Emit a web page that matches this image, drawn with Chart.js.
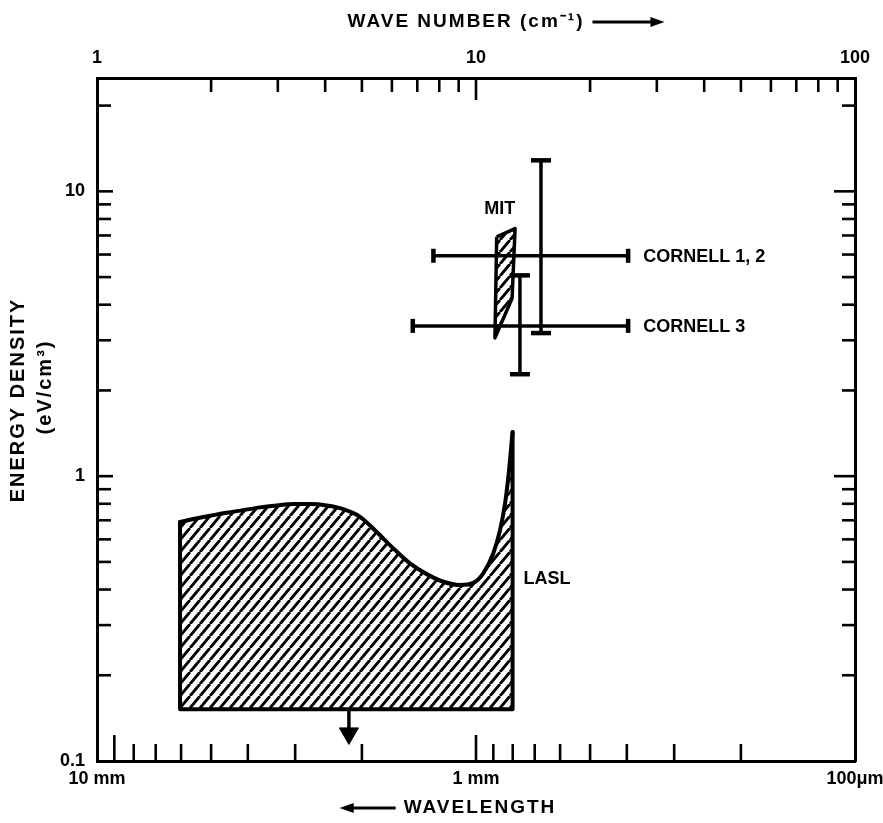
<!DOCTYPE html>
<html>
<head>
<meta charset="utf-8">
<title>Energy density vs wave number</title>
<script src="https://cdn.jsdelivr.net/npm/chart.js@4.4.1/dist/chart.umd.min.js"></script>
<style>
html,body{margin:0;padding:0;background:#ffffff;}
#box{position:relative;width:883px;height:823px;}
canvas{display:block;}
</style>
</head>
<body>
<div id="box"><canvas id="chart" width="883" height="823"></canvas></div>
<script>
// ---------------- data ----------------
// top axis: wave number (cm^-1)
const waveNumberDecades = [1, 10, 100];
const waveNumberLabels = ['1', '10', '100'];
const waveNumberMinor = [2, 3, 4, 5, 6, 7, 8, 9, 20, 30, 40, 50, 60, 70, 80, 90];
// bottom axis: wavelength (labels at the same decades)
const wavelengthLabels = ['10 mm', '1 mm', '100\u03bcm'];
const wavelengthTicksMm = [9, 8, 7, 6, 5, 4, 3, 2, 1, 0.9, 0.8, 0.7, 0.6, 0.5, 0.4, 0.3, 0.2];
const wavelengthLongTicksMm = [9, 1];
// left axis: energy density (eV/cm^3)
const energyDecades = [0.1, 1, 10];
const energyLabels = ['0.1', '1', '10'];
const energyMinor = [0.2, 0.3, 0.4, 0.5, 0.6, 0.7, 0.8, 0.9, 2, 3, 4, 5, 6, 7, 8, 9, 20];

// LASL region (upper envelope, wave number in cm^-1 / energy density)
const laslWaveNumber = [1.656, 1.795, 1.987, 2.199, 2.432, 2.692, 2.980, 3.296, 3.648, 4.037, 4.465, 4.942, 5.470, 6.050, 6.697, 7.412, 8.199, 9.074, 9.837, 10.45, 11.11, 11.57, 11.93, 12.17, 12.49];
const laslEnergy = [0.691, 0.707, 0.726, 0.744, 0.760, 0.777, 0.789, 0.798, 0.798, 0.789, 0.766, 0.720, 0.637, 0.558, 0.494, 0.453, 0.426, 0.415, 0.422, 0.456, 0.536, 0.646, 0.802, 0.994, 1.43];
const laslFloor = 0.152;
const laslLimitWaveNumber = [4.62, 4.62];
const laslLimitEnergy = [0.152, 0.125];

// MIT region (polygon corners)
const mitWaveNumber = [11.34, 12.68, 12.45, 11.22];
const mitEnergy = [6.92, 7.40, 4.21, 3.06];

// Cornell measurements (crosses)
const cornellNames = ['CORNELL 1, 2', 'CORNELL 3'];
const cornellWaveNumber = [14.84, 13.06];
const cornellEnergy = [5.94, 3.37];
const cornellWaveNumberLow = [7.72, 6.81];
const cornellWaveNumberHigh = [25.2, 25.2];
const cornellEnergyLow = [3.18, 2.28];
const cornellEnergyHigh = [12.85, 5.07];

// axis titles
const TOP_TITLE = 'WAVE NUMBER (cm\u207B\u00B9)';
const BOTTOM_TITLE = 'WAVELENGTH';
const Y_TITLE = ['ENERGY DENSITY', '(eV/cm\u00B3)'];

// ---------------- style ----------------
const FONT = '"Liberation Sans", Arial, Helvetica, sans-serif';
const FS = 18;
const TITLE_FS = 19;
const INK = '#000000';
Chart.defaults.font.family = FONT;
Chart.defaults.font.weight = 'bold';
Chart.defaults.font.size = FS;
Chart.defaults.color = INK;

const canvas = document.getElementById('chart');
const mainCtx = canvas.getContext('2d');
function makeHatch(w, h, lw) {
  const c = document.createElement('canvas');
  c.width = w; c.height = h;
  const g = c.getContext('2d');
  g.strokeStyle = INK; g.lineWidth = lw;
  g.beginPath();
  for (const k of [-1, 0, 1]) { g.moveTo(k * w, h); g.lineTo(k * w + w, 0); }
  g.stroke();
  return mainCtx.createPattern(c, 'repeat');
}
const hatch = makeHatch(10, 12, 2.9);

const pts = (xs, ys) => xs.map((x, i) => ({x, y: ys[i]}));
const wnFromMm = mm => 10 / mm;

// ---------------- datasets ----------------
const datasets = [];
datasets.push({
  label: 'LASL',
  data: pts(laslWaveNumber, laslEnergy),
  borderColor: INK, borderWidth: 4, borderJoinStyle: 'round', borderCapStyle: 'round',
  backgroundColor: hatch, fill: {value: laslFloor},
  cubicInterpolationMode: 'monotone', pointRadius: 0
});
datasets.push({
  label: 'LASL edges',
  data: [
    {x: laslWaveNumber[0], y: laslEnergy[0]},
    {x: laslWaveNumber[0], y: laslFloor},
    {x: laslWaveNumber[laslWaveNumber.length - 1], y: laslFloor},
    {x: laslWaveNumber[laslWaveNumber.length - 1], y: laslEnergy[laslEnergy.length - 1]}
  ],
  borderColor: INK, borderWidth: 4, borderJoinStyle: 'round', borderCapStyle: 'round',
  fill: false, tension: 0, pointRadius: 0
});
datasets.push({
  label: 'LASL limit',
  data: pts(laslLimitWaveNumber, laslLimitEnergy),
  borderColor: INK, borderWidth: 3.5, fill: false, tension: 0,
  pointRadius: [0, 11], pointStyle: 'triangle', pointRotation: 180,
  pointBackgroundColor: INK, pointBorderColor: INK, pointBorderWidth: 1
});
datasets.push({
  label: 'MIT',
  data: pts(mitWaveNumber.concat([mitWaveNumber[0]]), mitEnergy.concat([mitEnergy[0]])),
  borderColor: INK, borderWidth: 3.5, borderJoinStyle: 'round',
  backgroundColor: hatch, fill: 'shape', tension: 0, pointRadius: 0
});
cornellNames.forEach((name, i) => {
  datasets.push({
    label: name + ' (wave number range)',
    data: [{x: cornellWaveNumberLow[i], y: cornellEnergy[i]}, {x: cornellWaveNumberHigh[i], y: cornellEnergy[i]}],
    borderColor: INK, borderWidth: 3.5, fill: false, tension: 0,
    pointStyle: 'line', pointRotation: 90, pointRadius: 7,
    pointBorderColor: INK, pointBorderWidth: 4.5
  });
  datasets.push({
    label: name + ' (energy range)',
    data: [{x: cornellWaveNumber[i], y: cornellEnergyLow[i]}, {x: cornellWaveNumber[i], y: cornellEnergyHigh[i]}],
    borderColor: INK, borderWidth: 3.5, fill: false, tension: 0,
    pointStyle: 'line', pointRotation: 0, pointRadius: 10,
    pointBorderColor: INK, pointBorderWidth: 4.5
  });
});

// ---------------- plugins ----------------
const seg = (ctx, x1, y1, x2, y2) => { ctx.beginPath(); ctx.moveTo(x1, y1); ctx.lineTo(x2, y2); ctx.stroke(); };

const frameTicks = {
  id: 'frameTicks',
  afterDatasetsDraw(chart) {
    const {ctx, chartArea: a, scales: s} = chart;
    ctx.save();
    ctx.strokeStyle = INK; ctx.lineWidth = 2.6; ctx.lineCap = 'butt';
    waveNumberMinor.forEach(v => { const p = s.x2.getPixelForValue(v); seg(ctx, p, a.top, p, a.top + 14); });
    { const p = s.x2.getPixelForValue(10); seg(ctx, p, a.top, p, a.top + 22); }
    wavelengthTicksMm.forEach(mm => {
      const p = s.x.getPixelForValue(wnFromMm(mm));
      const L = wavelengthLongTicksMm.includes(mm) ? 26 : 17;
      seg(ctx, p, a.bottom, p, a.bottom - L);
    });
    energyMinor.forEach(v => {
      const p = s.y.getPixelForValue(v);
      seg(ctx, a.left, p, a.left + 14, p);
      seg(ctx, a.right, p, a.right - 13, p);
    });
    [1, 10].forEach(v => {
      const p = s.y.getPixelForValue(v);
      seg(ctx, a.left, p, a.left + 16, p);
      seg(ctx, a.right, p, a.right - 21, p);
    });
    ctx.restore();
  }
};

function arrow(ctx, xTail, xTip, y) {
  const dir = Math.sign(xTip - xTail);
  const head = 14, half = 5;
  ctx.lineWidth = 2.8;
  seg(ctx, xTail, y, xTip - dir * head * 0.6, y);
  ctx.beginPath();
  ctx.moveTo(xTip, y);
  ctx.lineTo(xTip - dir * head, y - half);
  ctx.lineTo(xTip - dir * head, y + half);
  ctx.closePath(); ctx.fill();
}

const annotations = {
  id: 'annotations',
  afterDraw(chart) {
    const {ctx, chartArea: a, scales: s} = chart;
    ctx.save();
    ctx.fillStyle = INK; ctx.strokeStyle = INK;
    ctx.textBaseline = 'middle';
    // labels of the data regions
    ctx.font = `bold ${FS}px ${FONT}`;
    ctx.textAlign = 'center';
    ctx.fillText('MIT', s.x.getPixelForValue(mitWaveNumber[0]) + 3, s.y.getPixelForValue(Math.max(...mitEnergy)) - 20);
    ctx.textAlign = 'left';
    cornellNames.forEach((n, i) => {
      ctx.fillText(n, s.x.getPixelForValue(cornellWaveNumberHigh[i]) + 15, s.y.getPixelForValue(cornellEnergy[i]) + 1);
    });
    ctx.fillText('LASL', s.x.getPixelForValue(laslWaveNumber[laslWaveNumber.length - 1]) + 11,
                 s.y.getPixelForValue(Math.min(...laslEnergy)) - 6);

    // axis titles (letter-spaced, like the original lettering)
    ctx.font = `bold ${TITLE_FS}px ${FONT}`;
    if ('letterSpacing' in ctx) ctx.letterSpacing = '2px';
    ctx.textAlign = 'center';
    const cx = (a.left + a.right) / 2;
    const yTop = 22, yBot = 808;
    const wTop = ctx.measureText(TOP_TITLE).width;
    ctx.fillText(TOP_TITLE, cx - 10, yTop);
    arrow(ctx, cx - 10 + wTop / 2 + 8, cx - 10 + wTop / 2 + 80, yTop);
    const wBot = ctx.measureText(BOTTOM_TITLE).width;
    ctx.fillText(BOTTOM_TITLE, cx + 4, yBot);
    arrow(ctx, cx + 4 - wBot / 2 - 8, cx + 4 - wBot / 2 - 64, yBot);
    // y title, rotated
    ctx.save();
    ctx.font = `bold 20px ${FONT}`;
    ctx.translate(18, 400);
    ctx.rotate(-Math.PI / 2);
    ctx.fillText(Y_TITLE[0], 0, 0);
    ctx.restore();
    ctx.save();
    ctx.font = `bold 20px ${FONT}`;
    ctx.translate(45, 387);
    ctx.rotate(-Math.PI / 2);
    ctx.fillText(Y_TITLE[1], 0, 0);
    ctx.restore();
    ctx.restore();
  }
};

// ---------------- scales ----------------
const noGrid = {display: false, drawTicks: false};
const frameBorder = {display: true, width: 3, color: INK};
const decadeTicks = list => scale => { scale.ticks = list.map(v => ({value: v})); };
const fixSize = (prop, size) => scale => {
  scale[prop] = size;
  scale.paddingLeft = 0; scale.paddingRight = 0; scale.paddingTop = 0; scale.paddingBottom = 0;
};

new Chart(canvas, {
  type: 'line',
  data: {datasets},
  options: {
    responsive: false,
    devicePixelRatio: 1,
    animation: false,
    layout: {padding: 0},
    plugins: {legend: {display: false}, tooltip: {enabled: false}},
    elements: {line: {tension: 0}},
    scales: {
      x: {
        type: 'logarithmic', position: 'bottom', min: 1, max: 100,
        grid: noGrid, border: frameBorder,
        afterBuildTicks: decadeTicks(waveNumberDecades),
        ticks: {autoSkip: false, maxRotation: 0, minRotation: 0, padding: 7,
                callback: (v, i) => wavelengthLabels[i]},
        title: {display: false, text: BOTTOM_TITLE},
        afterFit: fixSize('height', 62)
      },
      x2: {
        type: 'logarithmic', position: 'top', min: 1, max: 100,
        grid: noGrid, border: frameBorder,
        afterBuildTicks: decadeTicks(waveNumberDecades),
        ticks: {autoSkip: false, maxRotation: 0, minRotation: 0, padding: 9,
                callback: (v, i) => waveNumberLabels[i]},
        title: {display: false, text: TOP_TITLE},
        afterFit: fixSize('height', 78)
      },
      y: {
        type: 'logarithmic', position: 'left', min: 0.1, max: 25,
        grid: noGrid, border: frameBorder,
        afterBuildTicks: decadeTicks(energyDecades),
        ticks: {autoSkip: false, padding: 12, callback: (v, i) => energyLabels[i]},
        title: {display: false, text: Y_TITLE},
        afterFit: fixSize('width', 97)
      },
      y2: {
        type: 'logarithmic', position: 'right', min: 0.1, max: 25,
        grid: noGrid, border: frameBorder,
        ticks: {display: false},
        afterFit: fixSize('width', 28)
      }
    }
  },
  plugins: [frameTicks, annotations]
});
</script>
</body>
</html>
